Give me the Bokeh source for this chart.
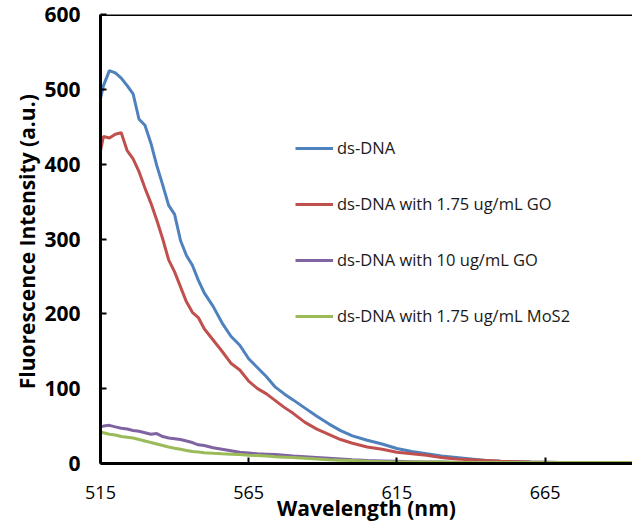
from bokeh.plotting import figure
from bokeh.models import Range1d, FixedTicker, Span, Legend, LegendItem
from bokeh.embed import file_html
from bokeh.resources import INLINE

wavelength = [515, 516, 518, 520, 522, 524, 526, 528, 530,
              532, 534, 536, 538, 540, 542, 544, 546, 548, 550,
              553, 556, 559, 562, 565, 568, 571, 574, 577, 580,
              584, 588, 592, 596, 600,
              605, 610, 615, 620, 625, 630, 635, 640, 645, 650,
              660, 670, 680, 690, 700]

ds_dna = [488, 505, 525, 522, 515, 505, 494, 460, 452,
          428, 398, 372, 345, 333, 298, 278, 265, 245, 228,
          210, 188, 170, 158, 140, 128, 116, 102, 93, 85,
          74, 63, 53, 44, 37,
          31, 26, 20, 16, 13, 10, 8, 6, 4, 3,
          2, 1.5, 1, 1, 1]

go_175 = [418, 437, 435, 440, 442, 418, 407, 390, 368,
          348, 325, 300, 272, 256, 236, 216, 202, 195, 180,
          165, 150, 134, 125, 110, 100, 93, 84, 75, 67,
          55, 46, 39, 32, 27,
          22, 19, 15, 13, 11, 8, 6, 5, 4, 3,
          2, 1.5, 1, 1, 1]

go_10 = [49, 50, 51, 49, 47, 46, 44, 43, 41,
         39, 40, 36, 34, 33, 32, 30, 28, 25, 24,
         21, 19, 17, 15, 14, 13, 12.5, 12, 11, 10,
         9, 8, 7, 6, 5,
         4, 3.5, 3, 2.5, 2, 2, 1.5, 1.5, 1.5, 1,
         1, 1, 1, 1, 1]

mos2_175 = [42, 41, 39, 38, 36, 35, 34, 32, 30,
            28, 26, 24, 22, 20.5, 19, 17.5, 16, 15.5, 14.5,
            13.7, 13, 12.5, 12, 11, 10.6, 10, 9, 8.5, 8,
            7, 6, 5, 4.5, 4,
            3, 2.5, 2, 2, 2, 2, 1.5, 1.5, 1.5, 1.5,
            1.5, 1.5, 1.5, 1.5, 1.5]

series_names = ["ds-DNA", "ds-DNA with 1.75 ug/mL GO",
                "ds-DNA with 10 ug/mL GO", "ds-DNA with 1.75 ug/mL MoS2"]
series_values = [ds_dna, go_175, go_10, mos2_175]
colors = ["#4F81BD", "#C0504D", "#8064A2", "#9BBB59"]

x_ticks = [515, 565, 615, 665]
y_ticks = [0, 100, 200, 300, 400, 500, 600]
x_title = "Wavelength (nm)"
y_title = "Fluorescence  Intensity (a.u.)"

p = figure(width=632, height=524, output_backend="svg", toolbar_location=None,
           x_range=Range1d(515, 694.5), y_range=Range1d(0, 600),
           min_border_left=100, min_border_right=0, min_border_top=14, min_border_bottom=57)
p.outline_line_color = None
p.grid.visible = False
p.background_fill_color = "white"
p.border_fill_color = "white"

items = []
for name, vals, c in zip(series_names, series_values, colors):
    r = p.line(wavelength, vals, line_color=c, line_width=3)
    items.append(LegendItem(label=name, renderers=[r]))

p.add_layout(Span(location=600, dimension="width", line_color="black", line_width=3))

FONT = "Open Sans"
xa = p.xaxis[0]
xa.ticker = FixedTicker(ticks=x_ticks)
xa.axis_line_color = "black"
xa.axis_line_width = 3
xa.major_tick_in = 6
xa.major_tick_out = 0
xa.major_tick_line_width = 2
xa.major_tick_line_color = "black"
xa.minor_tick_line_color = None
xa.major_label_text_font = FONT
xa.major_label_text_font_size = "18px"
xa.major_label_text_color = "black"
xa.major_label_standoff = 22
xa.axis_label = x_title
xa.axis_label_text_font = FONT
xa.axis_label_text_font_size = "21px"
xa.axis_label_text_font_style = "bold"
xa.axis_label_text_color = "black"
xa.axis_label_text_line_height = 1.0
xa.axis_label_standoff = -8

ya = p.yaxis[0]
ya.ticker = FixedTicker(ticks=y_ticks)
ya.axis_line_color = "black"
ya.axis_line_width = 3
ya.major_tick_in = 6
ya.major_tick_out = 0
ya.major_tick_line_width = 2
ya.major_tick_line_color = "black"
ya.minor_tick_line_color = None
ya.major_label_text_font = FONT
ya.major_label_text_font_size = "21px"
ya.major_label_text_font_style = "bold"
ya.major_label_text_color = "black"
ya.major_label_standoff = 20
ya.axis_label = y_title
ya.axis_label_text_font = FONT
ya.axis_label_text_font_size = "21px"
ya.axis_label_text_font_style = "bold"
ya.axis_label_text_color = "black"
ya.axis_label_standoff = 0

legend = Legend(items=items, location=(195, 136), orientation="vertical",
                glyph_width=38, glyph_height=20, label_height=20, spacing=33,
                label_standoff=4, padding=0, margin=0,
                border_line_color=None, background_fill_alpha=0,
                label_text_font=FONT, label_text_font_size="16.5px",
                label_text_color="#1a1a1a")
p.add_layout(legend)

open("out.html", "w").write(file_html(p, INLINE))
